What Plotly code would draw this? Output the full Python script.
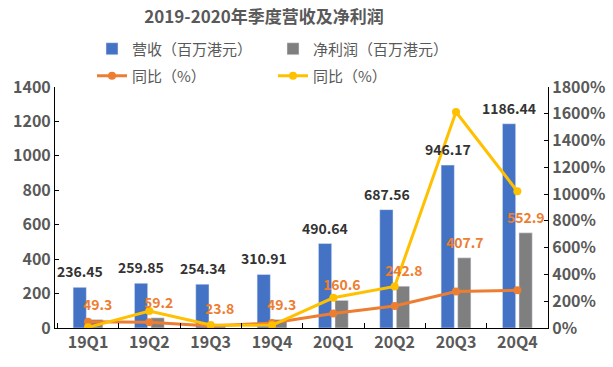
import plotly.graph_objects as go

categories = ["19Q1", "19Q2", "19Q3", "19Q4", "20Q1", "20Q2", "20Q3", "20Q4"]
revenue = [236.45, 259.85, 254.34, 310.91, 490.64, 687.56, 946.17, 1186.44]
net_profit = [49.3, 59.2, 23.8, 49.3, 160.6, 242.8, 407.7, 552.9]
revenue_yoy = [47, 43, 15, 37, 107.5, 164.6, 272.0, 281.6]
profit_yoy = [5, 127, 22, 20, 225.8, 310.1, 1613.0, 1021.5]

FONT = "Noto Sans CJK SC, Noto Sans, sans-serif"
TXT = "#595959"
BLUE = "#4472C4"
GRAY = "#7F7F7F"
ORANGE = "#ED7D31"
YELLOW = "#FFC000"

fig = go.Figure()
fig.add_trace(go.Bar(x=categories, y=revenue, name="营收（百万港元）", marker_color=BLUE,
                     legend="legend"))
fig.add_trace(go.Bar(x=categories, y=net_profit, name="净利润（百万港元）", marker_color=GRAY,
                     legend="legend"))
fig.add_trace(go.Scatter(x=categories, y=revenue_yoy, name="同比（%）", yaxis="y2",
                         mode="lines+markers", line=dict(color=ORANGE, width=3),
                         marker=dict(size=8, color=ORANGE), legend="legend2"))
fig.add_trace(go.Scatter(x=categories, y=profit_yoy, name="同比（%）", yaxis="y2",
                         mode="lines+markers", line=dict(color=YELLOW, width=3),
                         marker=dict(size=8, color=YELLOW), legend="legend2"))

annotations = []
for c, v in zip(categories, revenue):
    annotations.append(dict(x=c, y=v, xref="x", yref="y", text=f"{v:.2f}", showarrow=False,
                            xshift=-8, yshift=16, font=dict(family=FONT, size=14, color="#333333", weight="bold")))
for c, v in zip(categories, net_profit):
    annotations.append(dict(x=c, y=v, xref="x", yref="y", text=f"{v:.1f}", showarrow=False,
                            xshift=9, yshift=16, font=dict(family=FONT, size=14, color=ORANGE, weight="bold")))

fig.update_layout(
    width=613, height=367,
    margin=dict(l=55, r=65, t=87, b=39, autoexpand=False),
    paper_bgcolor="white", plot_bgcolor="white",
    font=dict(family=FONT, color=TXT),
    title=dict(text="<b>2019-2020年季度营收及净利润</b>", x=264 / 613, xanchor="center",
               y=1 - 17 / 367, yanchor="middle", font=dict(size=17, color=TXT)),
    barmode="group", bargap=0.46, bargroupgap=0.2,
    showlegend=True,
    legend=dict(orientation="h", xref="container", yref="container", x=92 / 613, y=1 - 49 / 367,
                xanchor="left", yanchor="middle", entrywidth=136, font=dict(size=15, color=TXT),
                bgcolor="rgba(0,0,0,0)", itemwidth=30),
    legend2=dict(orientation="h", xref="container", yref="container", x=92 / 613, y=1 - 76 / 367,
                 xanchor="left", yanchor="middle", entrywidth=136, font=dict(size=15, color=TXT),
                 bgcolor="rgba(0,0,0,0)", itemwidth=30),
    xaxis=dict(showline=True, linecolor="black", linewidth=1, ticks="inside", ticklen=5,
               tickcolor="black", tickson="boundaries", showgrid=False,
               tickfont=dict(size=16, color=TXT, weight="bold")),
    yaxis=dict(range=[0, 1400], dtick=200, showline=True, linecolor="black", linewidth=1,
               ticks="inside", ticklen=4, tickcolor="black", showgrid=False, zeroline=False,
               tickfont=dict(size=16, color=TXT, weight="bold")),
    yaxis2=dict(range=[0, 1800], dtick=200, overlaying="y", side="right", showline=True,
                linecolor="black", linewidth=1, ticks="inside", ticklen=4, tickcolor="black",
                showgrid=False, zeroline=False, ticksuffix="%",
                tickfont=dict(size=16, color=TXT, weight="bold")),
    annotations=annotations,
)

fig.write_html("out.html", config={"displayModeBar": False},
               post_script="document.body.style.margin='0';document.body.style.overflow='hidden';")
